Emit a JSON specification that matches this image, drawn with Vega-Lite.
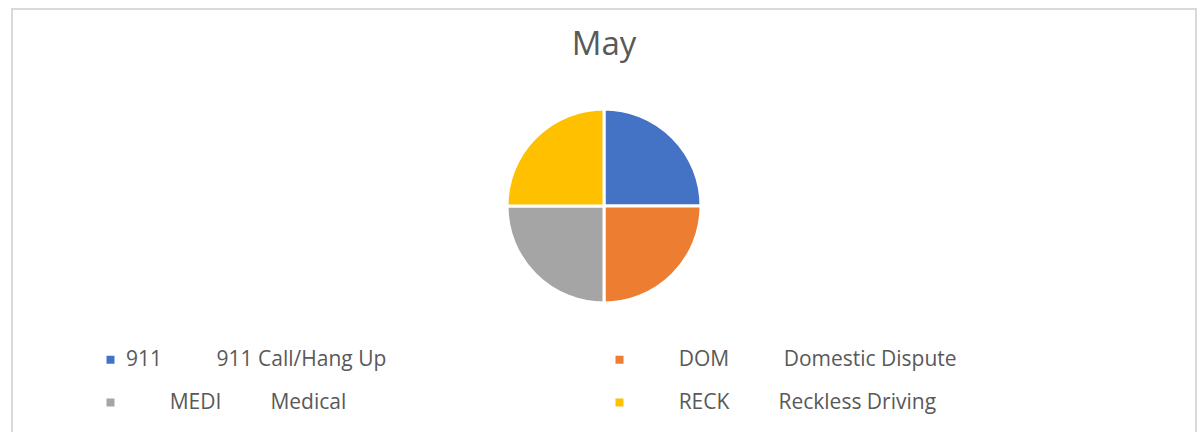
{
  "$schema": "https://vega.github.io/schema/vega-lite/v6.json",
  "width": 1184,
  "height": 440,
  "padding": {"left": 11, "top": 8, "right": 6, "bottom": 0},
  "background": "white",
  "title": {
    "text": "May",
    "orient": "top",
    "anchor": "middle",
    "offset": -54,
    "font": "Open Sans",
    "fontSize": 33,
    "fontWeight": "normal",
    "color": "#595959"
  },
  "config": {
    "view": {"stroke": null}
  },
  "layer": [
    {
      "data": {"values": [{}]},
      "mark": {"type": "rect", "fill": null, "stroke": "#D9D9D9", "strokeWidth": 2},
      "encoding": {}
    },
    {
      "data": {
        "values": [
          {"code": "911", "label": "911          911 Call/Hang Up", "value": 1},
          {"code": "DOM", "label": "        DOM          Domestic Dispute", "value": 1},
          {"code": "MEDI", "label": "        MEDI         Medical", "value": 1},
          {"code": "RECK", "label": "        RECK         Reckless Driving", "value": 1}
        ]
      },
      "mark": {"type": "arc", "radius": 97, "stroke": "white", "strokeWidth": 3, "yOffset": -23},
      "encoding": {
        "theta": {"field": "value", "type": "quantitative", "stack": true},
        "color": {
          "field": "label",
          "type": "nominal",
          "scale": {
            "domain": ["911          911 Call/Hang Up", "        DOM          Domestic Dispute", "        MEDI         Medical", "        RECK         Reckless Driving"],
            "range": ["#4472C4", "#ED7D31", "#A5A5A5", "#FFC000"]
          },
          "legend": {
            "title": null,
            "orient": "none",
            "legendX": 88,
            "legendY": 340,
            "direction": "horizontal",
            "columns": 2,
            "columnPadding": 222,
            "rowPadding": 21,
            "padding": 0,
            "symbolType": "square",
            "symbolSize": 64,
            "symbolStrokeWidth": 0,
            "labelFont": "Open Sans",
            "labelFontSize": 21,
            "labelColor": "#595959",
            "labelOffset": 5,
            "labelLimit": 0,
            "labelExpr": "'\u200b' + replace(datum.label, / /g, '\u00a0')"
          }
        },
        "order": {"field": "code", "sort": "ascending"}
      }
    }
  ]
}
